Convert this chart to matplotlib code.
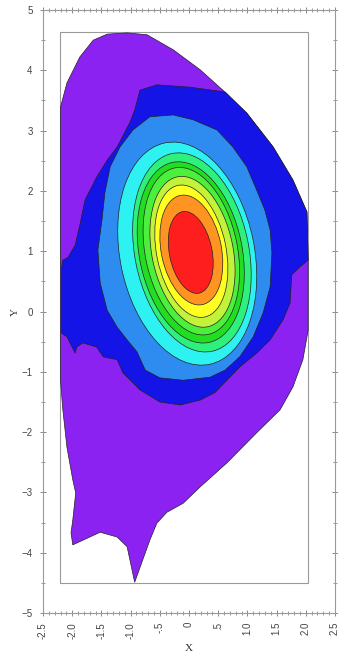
import matplotlib
matplotlib.use("Agg")
import matplotlib.pyplot as plt
from matplotlib.patches import Polygon, Ellipse, Rectangle
from matplotlib.ticker import MultipleLocator, FixedLocator, FixedFormatter

# outer (lowest level) region boundary
outer_x = [-2.20, -2.09, -1.87, -1.64, -1.40, -1.06, -0.72, -0.27, 0.19, 0.58,
           0.99, 1.44, 1.78, 2.02, 2.04, 2.04, 1.95, 1.78, 1.56, 1.16,
           0.65, 0.19, -0.10, -0.38, -0.55, -0.67, -0.93, -1.06, -1.23, -1.52,
           -1.99, -2.02, -1.99, -1.94, -1.99, -2.09, -2.16, -2.20]
outer_y = [3.39, 3.79, 4.22, 4.50, 4.60, 4.62, 4.59, 4.34, 4.01, 3.67,
           3.29, 2.73, 2.18, 1.65, 0.85, -0.31, -0.80, -1.25, -1.63, -2.01,
           -2.51, -2.91, -3.18, -3.33, -3.51, -3.79, -4.49, -3.90, -3.74, -3.66,
           -3.87, -3.67, -3.46, -3.01, -2.79, -2.25, -1.63, -1.14]

# second level
blue_x = [-0.93, -0.84, -0.55, 0.02, 0.62, 0.99, 1.44, 1.78, 2.02, 2.04,
          1.90, 1.76, 1.73, 1.61, 1.39, 1.16, 0.87, 0.65, 0.45, 0.19,
          -0.15, -0.50, -0.84, -1.13, -1.23, -1.47, -1.58, -1.82, -1.92, -1.95,
          -2.09, -2.18, -2.18, -2.16, -2.07, -1.95, -1.87, -1.78, -1.58, -1.40,
          -1.23, -1.01]
blue_y = [3.34, 3.67, 3.76, 3.72, 3.64, 3.29, 2.73, 2.18, 1.65, 0.85,
          0.74, 0.61, 0.14, -0.14, -0.47, -0.69, -0.92, -1.14, -1.34, -1.47,
          -1.55, -1.50, -1.30, -1.02, -0.80, -0.75, -0.59, -0.52, -0.59, -0.69,
          -0.42, -0.36, 0.74, 0.85, 0.90, 1.10, 1.43, 1.85, 2.23, 2.51,
          2.73, 3.14]

# third level
mid_x = [-1.49, -1.44, -1.35, -1.18, -0.96, -0.67, -0.27, 0.07, 0.48, 0.75,
         0.99, 1.16, 1.30, 1.39, 1.42, 1.39, 1.27, 1.10, 0.87, 0.62,
         0.36, -0.10, -0.50, -0.75, -0.89, -1.06, -1.23, -1.40, -1.52, -1.56]
mid_y = [1.52, 1.97, 2.40, 2.73, 3.01, 3.23, 3.26, 3.18, 3.01, 2.73,
         2.40, 2.01, 1.68, 1.35, 0.97, 0.41, -0.02, -0.42, -0.75, -0.97,
         -1.09, -1.14, -1.10, -0.97, -0.67, -0.47, -0.26, 0.02, 0.47, 1.02]

# inner closed contours (centre, width, height)
ring_cx = [-0.03, 0.05, 0.03, 0.04, 0.06, 0.04, 0.04, 0.03]
ring_cy = [0.96, 0.98, 0.98, 1.00, 0.99, 1.00, 1.02, 0.98]
ring_w = [2.30, 1.95, 1.76, 1.58, 1.39, 1.19, 1.03, 0.73]
ring_h = [3.75, 3.35, 3.05, 2.82, 2.54, 2.23, 1.85, 1.38]
ring_tilt = 12

level_colors = ['#8b22f2', '#1414e6', '#2e8cf0', '#2ef2f2', '#2ef07c',
                '#22dd22', '#4cf03c', '#c2f23a', '#ffff22', '#ff9422', '#ff1e1e']

# grid box
box_x = [-2.21, 2.04]
box_y = [-4.50, 4.64]

xtick_vals = [-2.5, -2.0, -1.5, -1.0, -0.5, 0, 0.5, 1.0, 1.5, 2.0, 2.5]
xtick_labels = ['-2.5', '-2.0', '-1.5', '-1.0', '-.5', '0', '.5', '1.0', '1.5', '2.0', '2.5']

fig = plt.figure(figsize=(3.38, 6.63), dpi=100)
ax = fig.add_axes([0.1272, 0.0754, 0.8639, 0.9095])

edge = '#222222'
ax.add_patch(Rectangle((box_x[0], box_y[0]), box_x[1] - box_x[0], box_y[1] - box_y[0],
                       fill=False, edgecolor='#9a9a9a', lw=0.8, zorder=1))

for i, (xs, ys) in enumerate([(outer_x, outer_y), (blue_x, blue_y), (mid_x, mid_y)]):
    ax.add_patch(Polygon(list(zip(xs, ys)), closed=True, facecolor=level_colors[i],
                         edgecolor=edge, lw=0.5, zorder=2 + i))

for j in range(len(ring_w)):
    ax.add_patch(Ellipse((ring_cx[j], ring_cy[j]), ring_w[j], ring_h[j], angle=ring_tilt,
                         facecolor=level_colors[3 + j], edgecolor=edge, lw=0.5, zorder=5 + j))

ax.set_xlim(-2.5, 2.5)
ax.set_ylim(-5, 5)

for s in ax.spines.values():
    s.set_color('#9a9a9a')
    s.set_linewidth(0.8)

ax.xaxis.set_major_locator(FixedLocator(xtick_vals))
ax.xaxis.set_major_formatter(FixedFormatter(xtick_labels))
ax.xaxis.set_minor_locator(MultipleLocator(0.1))
ax.yaxis.set_major_locator(MultipleLocator(1))
ax.yaxis.set_minor_locator(MultipleLocator(0.5))

ax.tick_params(which='both', direction='inout', color='#8a8a8a', top=True, right=True,
               labelsize=7, labelcolor='#444444')
ax.tick_params(which='major', length=5, width=0.7)
ax.tick_params(which='minor', length=3, width=0.6)
ax.tick_params(axis='x', labelrotation=90, pad=4)
ax.tick_params(axis='y', pad=5)
for lab in ax.get_xticklabels() + ax.get_yticklabels():
    lab.set_family('Liberation Sans')

ax.set_xlabel('X', family='Liberation Serif', fontsize=8, color='#333333', labelpad=4)
ax.set_ylabel('Y', family='Liberation Serif', fontsize=8, color='#333333', labelpad=1)

fig.savefig('out.png', dpi=100)
